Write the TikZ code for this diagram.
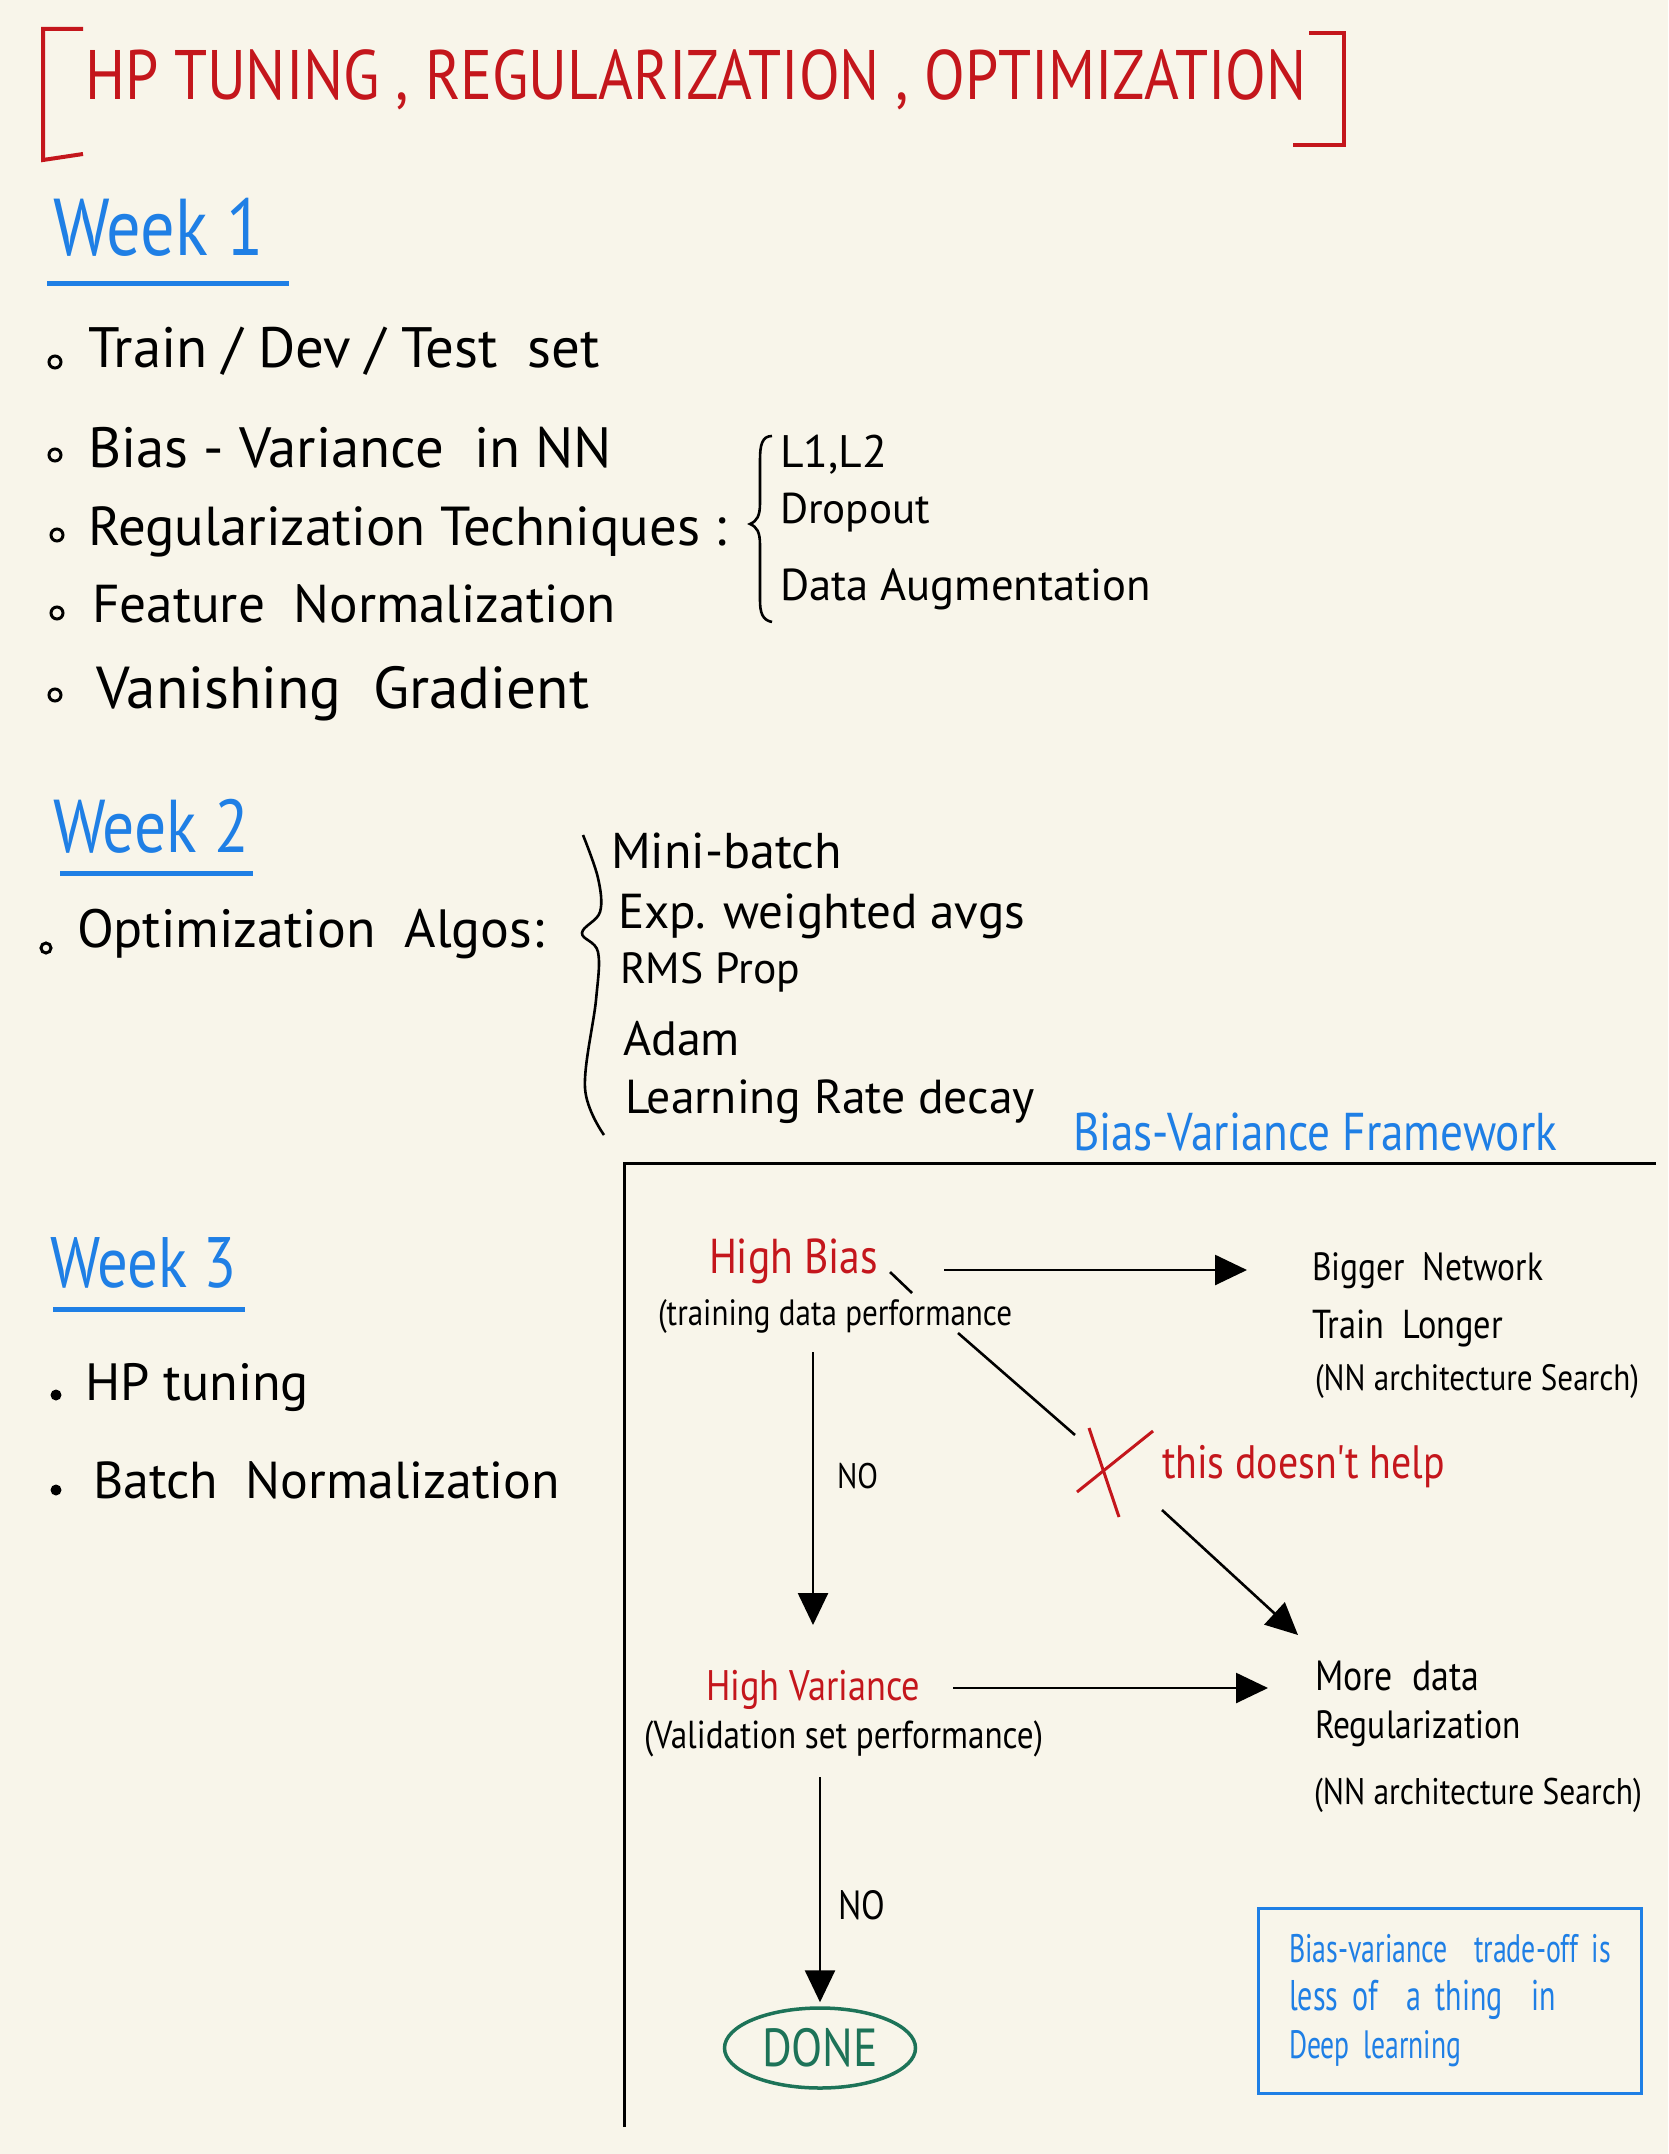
\documentclass[tikz,border=0pt]{standalone}
\usepackage{graphicx}
\usepackage{fontspec}
\usetikzlibrary{calc,arrows.meta,shapes.geometric}
\setmainfont{PT Sans}
\newfontfamily\hand{PT Sans}
\newfontfamily\handt[FakeStretch=0.85]{PT Sans}
\newfontfamily\handc[FakeStretch=0.85]{PT Sans}
\newfontfamily\handn[FakeStretch=0.7]{PT Sans}
\definecolor{bg}{HTML}{F8F5EA}
\definecolor{redc}{HTML}{C4161C}
\definecolor{bluec}{HTML}{1F7FE5}
\definecolor{greenc}{HTML}{1D7358}
\newcommand\fw[2]{\resizebox{#1pt}{!}{#2}}
\tikzset{
  txt/.style={inner sep=0pt, outer sep=0pt, anchor=base west, font=\hand\fontsize{20}{24}\selectfont},
  ttxt/.style={txt, font=\handt\fontsize{20}{24}\selectfont},
  dtxt/.style={txt, font=\handc\fontsize{20}{24}\selectfont},
  ring/.style={circle, draw=black, line width=3pt, minimum size=12pt, inner sep=0pt},
  dot/.style={circle, fill=black, minimum size=11pt, inner sep=0pt},
  conn/.style={line width=2.6pt, draw=black},
  arr/.style={-{Triangle[length=32pt,width=30pt]}},
  uline/.style={bluec, line width=5pt},
  brk/.style={redc, line width=4pt},
}
\begin{document}
\begin{tikzpicture}[x=1pt,y=-1pt]
\fill[bg] (0,0) rectangle (1668,2154);
\useasboundingbox (0,0) rectangle (1668,2154);

% title
\draw[brk] (83,29) -- (43,29) -- (43,160) -- (83,154);
\draw[brk] (1309,33) -- (1344,33) -- (1344,145) -- (1293,145);
\node[ttxt, text=redc] (title) at (85,100) {\fw{1221}{HP TUNING , REGULARIZATION , OPTIMIZATION}};

% Week 1
\node[ttxt, text=bluec] (wk1) at (53,255) {\fw{211}{Week 1}};
\draw[uline] (47,283) -- (289,283);
\node[ring] (b1) at (55,362) {};
\node[ring] (b2) at (55,455) {};
\node[ring] (b3) at (57,535) {};
\node[ring] (b4) at (57,613) {};
\node[ring] (b5) at (55,695) {};
\node[txt] (it1) at (88,367) {\fw{512}{Train / Dev / Test\ \ set}};
\node[txt] (it2) at (88,467) {\fw{524}{Bias - Variance\ \ in NN}};
\node[txt] (it3) at (88,545) {\fw{639}{Regularization Techniques :}};
\node[txt] (it4) at (92,622) {\fw{524}{Feature\ \ Normalization}};
\node[txt] (it5) at (96,708) {\fw{493}{Vanishing\ \ Gradient}};
\draw[line width=2.6pt] (772,436) .. controls (762,436) and (760,445) .. (760,460) -- (760,503) .. controls (760,516) and (757,521) .. (750,524) .. controls (757,527) and (760,532) .. (760,545) -- (760,600) .. controls (760,612) and (762,620) .. (772,622);
\node[txt] (l1l2) at (780,467) {\fw{107}{L1,L2}};
\node[txt] (drop) at (780,523) {\fw{150}{Dropout}};
\node[txt] (daug) at (780,600) {\fw{371}{Data Augmentation}};

% Week 2
\node[ttxt, text=bluec] (wk2) at (53,852) {\fw{196}{Week 2}};
\draw[uline] (60,873) -- (253,873);
\node[ring, minimum size=10pt] (b6) at (46,948) {};
\node[txt] (opt) at (77,947) {\fw{467}{Optimization\ \ Algos:}};
\draw[line width=2.6pt] plot[smooth, tension=0.6] coordinates {(583,835) (598,878) (600,912) (582,933) (598,952) (596,1000) (585,1088) (604,1135)};
\node[txt] (mb) at (611,868) {\fw{231}{Mini-batch}};
\node[txt] (exp) at (618,928) {\fw{407}{Exp. weighted avgs}};
\node[txt] (rms) at (620,983) {\fw{180}{RMS Prop}};
\node[txt] (adam) at (623,1055) {\fw{117}{Adam}};
\node[txt] (lrd) at (625,1113) {\fw{410}{Learning Rate decay}};

% Week 3
\node[ttxt, text=bluec] (wk3) at (50,1287) {\fw{187}{Week 3}};
\draw[uline] (53,1309) -- (245,1309);
\node[dot] (b7) at (56,1395) {};
\node[dot] (b8) at (56,1490) {};
\node[txt] (hp) at (85,1400) {\fw{224}{HP tuning}};
\node[txt] (bn) at (93,1498) {\fw{467}{Batch\ \ Normalization}};

% Framework
\node[dtxt, text=bluec] (bvf) at (1073,1150) {\fw{484}{Bias-Variance Framework}};
\draw[line width=3pt] (624,2127) -- (624,1163) -- (1656,1163);

\node[dtxt, text=redc] (hb) at (709,1273) {\fw{169}{High Bias}};
\node[dtxt] (hbsub) at (658,1325) {\fw{354}{(training data performance}};
\node[dtxt] (bigger) at (1312,1280) {\fw{231}{Bigger\ \ Network}};
\node[dtxt] (tl) at (1312,1338) {\fw{191}{Train\ \ Longer}};
\node[dtxt] (nnas1) at (1315,1390) {\fw{324}{(NN architecture Search)}};
\node[dtxt, text=redc] (help) at (1162,1478) {\fw{283}{this doesn't help}};
\node[dtxt] (no1) at (837,1488) {\fw{41}{NO}};

\node[dtxt, text=redc] (hv) at (706,1700) {\fw{214}{High Variance}};
\node[dtxt] (hvsub) at (644,1748) {\fw{399}{(Validation set performance)}};
\node[dtxt] (md) at (1315,1690) {\fw{164}{More\ \ data}};
\node[dtxt] (reg) at (1315,1738) {\fw{206}{Regularization}};
\node[dtxt] (nnas2) at (1314,1804) {\fw{328}{(NN architecture Search)}};
\node[dtxt] (no2) at (838,1919) {\fw{47}{NO}};

\node[ellipse, draw=greenc, line width=3.5pt, minimum width=191pt, minimum height=80pt, inner sep=0pt, font=\handc\fontsize{20}{24}\selectfont, text=greenc] (done) at (820,2048) {\fw{116}{DONE}};

\node[draw=bluec, line width=3.5pt, minimum width=383pt, minimum height=185pt, inner sep=0pt, text width=322pt, align=left, font=\handn\fontsize{20}{48}\selectfont, text=bluec] (note) at (1450,2001) {\fw{322}{Bias-variance\ \ trade-off is}\\\fw{267}{less of\ \ a thing\ \ in}\\\fw{172}{Deep learning}};

% connectors
\draw[conn, arr] ($(hb.base east)+(66,-3)$) -- ($(hb.base east -| bigger.west)+(-65,-3)$);
\draw[conn] ($(hb.base east)+(12,-1)$) -- ++(22,21);
\draw[conn, arr] ($(hv |- hbsub.base)+(0,27)$) -- ($(hv.base)+(0,-75)$);
\draw[conn, arr] ($(hv.base east)+(33,-12)$) -- ($(hv.base east -| md.west)+(-47,-12)$);
\draw[conn, arr, shorten >=4pt] ($(done |- hvsub.base)+(0,29)$) -- (done.north);
\coordinate (xa) at (1075,1435);
\coordinate (xb) at (1162,1510);
\draw[conn] ($(hbsub.base east)+(-54,8)$) -- (xa);
\draw[conn, arr] (xb) -- ($(md.base west)+(-17,-55)$);
\draw[redc, line width=3pt] (1153,1431) -- (1077,1492);
\draw[redc, line width=3pt] (1089,1428) -- (1119,1517);
\end{tikzpicture}
\end{document}
